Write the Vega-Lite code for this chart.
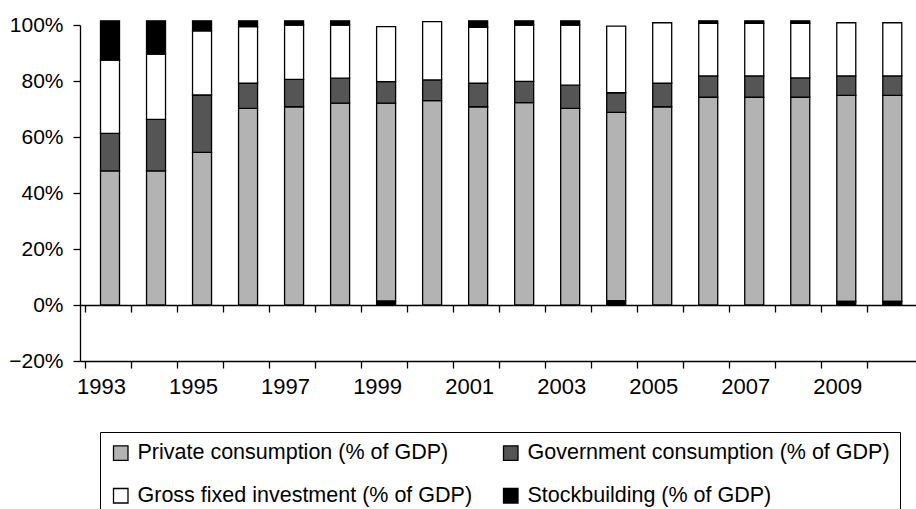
{
  "$schema": "https://vega.github.io/schema/vega-lite/v6.json",
  "width": 836,
  "height": 336,
  "autosize": {"type": "none"},
  "padding": {"left": 80, "top": 25, "right": 0, "bottom": 148},
  "background": "white",
  "config": {
    "view": {"stroke": null},
    "axis": {
      "domainColor": "black",
      "domainWidth": 1.3,
      "tickColor": "black",
      "tickWidth": 1.3,
      "labelColor": "black",
      "labelFont": "Liberation Sans",
      "labelFontSize": 21,
      "grid": false,
      "title": null
    }
  },
  "data": {
    "values": [
      {"year": 1993, "series": "Private consumption (% of GDP)", "share": 47.9},
      {"year": 1993, "series": "Government consumption (% of GDP)", "share": 13.4},
      {"year": 1993, "series": "Gross fixed investment (% of GDP)", "share": 26.2},
      {"year": 1993, "series": "Stockbuilding (% of GDP)", "share": 14.0},
      {"year": 1994, "series": "Private consumption (% of GDP)", "share": 47.9},
      {"year": 1994, "series": "Government consumption (% of GDP)", "share": 18.4},
      {"year": 1994, "series": "Gross fixed investment (% of GDP)", "share": 23.3},
      {"year": 1994, "series": "Stockbuilding (% of GDP)", "share": 11.9},
      {"year": 1995, "series": "Private consumption (% of GDP)", "share": 54.5},
      {"year": 1995, "series": "Government consumption (% of GDP)", "share": 20.5},
      {"year": 1995, "series": "Gross fixed investment (% of GDP)", "share": 22.9},
      {"year": 1995, "series": "Stockbuilding (% of GDP)", "share": 3.6},
      {"year": 1996, "series": "Private consumption (% of GDP)", "share": 70.2},
      {"year": 1996, "series": "Government consumption (% of GDP)", "share": 9.0},
      {"year": 1996, "series": "Gross fixed investment (% of GDP)", "share": 20.2},
      {"year": 1996, "series": "Stockbuilding (% of GDP)", "share": 2.1},
      {"year": 1997, "series": "Private consumption (% of GDP)", "share": 70.8},
      {"year": 1997, "series": "Government consumption (% of GDP)", "share": 9.8},
      {"year": 1997, "series": "Gross fixed investment (% of GDP)", "share": 19.4},
      {"year": 1997, "series": "Stockbuilding (% of GDP)", "share": 1.5},
      {"year": 1998, "series": "Private consumption (% of GDP)", "share": 72.1},
      {"year": 1998, "series": "Government consumption (% of GDP)", "share": 8.9},
      {"year": 1998, "series": "Gross fixed investment (% of GDP)", "share": 19.0},
      {"year": 1998, "series": "Stockbuilding (% of GDP)", "share": 1.5},
      {"year": 1999, "series": "Private consumption (% of GDP)", "share": 70.7},
      {"year": 1999, "series": "Government consumption (% of GDP)", "share": 7.7},
      {"year": 1999, "series": "Gross fixed investment (% of GDP)", "share": 19.6},
      {"year": 1999, "series": "Stockbuilding (% of GDP)", "share": -1.4},
      {"year": 2000, "series": "Private consumption (% of GDP)", "share": 73.0},
      {"year": 2000, "series": "Government consumption (% of GDP)", "share": 7.4},
      {"year": 2000, "series": "Gross fixed investment (% of GDP)", "share": 20.8},
      {"year": 2001, "series": "Private consumption (% of GDP)", "share": 70.8},
      {"year": 2001, "series": "Government consumption (% of GDP)", "share": 8.4},
      {"year": 2001, "series": "Gross fixed investment (% of GDP)", "share": 20.0},
      {"year": 2001, "series": "Stockbuilding (% of GDP)", "share": 2.3},
      {"year": 2002, "series": "Private consumption (% of GDP)", "share": 72.3},
      {"year": 2002, "series": "Government consumption (% of GDP)", "share": 7.6},
      {"year": 2002, "series": "Gross fixed investment (% of GDP)", "share": 20.1},
      {"year": 2002, "series": "Stockbuilding (% of GDP)", "share": 1.5},
      {"year": 2003, "series": "Private consumption (% of GDP)", "share": 70.2},
      {"year": 2003, "series": "Government consumption (% of GDP)", "share": 8.3},
      {"year": 2003, "series": "Gross fixed investment (% of GDP)", "share": 21.5},
      {"year": 2003, "series": "Stockbuilding (% of GDP)", "share": 1.5},
      {"year": 2004, "series": "Private consumption (% of GDP)", "share": 67.3},
      {"year": 2004, "series": "Government consumption (% of GDP)", "share": 7.0},
      {"year": 2004, "series": "Gross fixed investment (% of GDP)", "share": 23.8},
      {"year": 2004, "series": "Stockbuilding (% of GDP)", "share": -1.5},
      {"year": 2005, "series": "Private consumption (% of GDP)", "share": 70.8},
      {"year": 2005, "series": "Government consumption (% of GDP)", "share": 8.4},
      {"year": 2005, "series": "Gross fixed investment (% of GDP)", "share": 21.6},
      {"year": 2006, "series": "Private consumption (% of GDP)", "share": 74.2},
      {"year": 2006, "series": "Government consumption (% of GDP)", "share": 7.6},
      {"year": 2006, "series": "Gross fixed investment (% of GDP)", "share": 18.8},
      {"year": 2006, "series": "Stockbuilding (% of GDP)", "share": 0.9},
      {"year": 2007, "series": "Private consumption (% of GDP)", "share": 74.2},
      {"year": 2007, "series": "Government consumption (% of GDP)", "share": 7.6},
      {"year": 2007, "series": "Gross fixed investment (% of GDP)", "share": 18.8},
      {"year": 2007, "series": "Stockbuilding (% of GDP)", "share": 0.9},
      {"year": 2008, "series": "Private consumption (% of GDP)", "share": 74.2},
      {"year": 2008, "series": "Government consumption (% of GDP)", "share": 6.9},
      {"year": 2008, "series": "Gross fixed investment (% of GDP)", "share": 19.5},
      {"year": 2008, "series": "Stockbuilding (% of GDP)", "share": 0.9},
      {"year": 2009, "series": "Private consumption (% of GDP)", "share": 73.6},
      {"year": 2009, "series": "Government consumption (% of GDP)", "share": 6.9},
      {"year": 2009, "series": "Gross fixed investment (% of GDP)", "share": 19.0},
      {"year": 2009, "series": "Stockbuilding (% of GDP)", "share": -1.3},
      {"year": 2010, "series": "Private consumption (% of GDP)", "share": 73.6},
      {"year": 2010, "series": "Government consumption (% of GDP)", "share": 6.9},
      {"year": 2010, "series": "Gross fixed investment (% of GDP)", "share": 19.0},
      {"year": 2010, "series": "Stockbuilding (% of GDP)", "share": -1.3}
    ]
  },
  "transform": [
    {"calculate": "abs(datum.share)", "as": "segment"},
    {
      "calculate": "datum.share < 0 ? -1 : indexof(['Private consumption (% of GDP)', 'Government consumption (% of GDP)', 'Gross fixed investment (% of GDP)', 'Stockbuilding (% of GDP)'], datum.series)",
      "as": "stackRank"
    }
  ],
  "layer": [
    {
      "mark": {"type": "bar", "width": 19, "xOffset": 2, "stroke": "black", "strokeWidth": 1.3},
      "encoding": {
        "x": {
          "field": "year",
          "type": "quantitative",
          "scale": {"domain": [1992.5, 2010.45], "nice": false, "zero": false},
          "axis": {
            "orient": "bottom",
            "values": [1992.5, 1993.5, 1994.5, 1995.5, 1996.5, 1997.5, 1998.5, 1999.5, 2000.5, 2001.5, 2002.5, 2003.5, 2004.5, 2005.5, 2006.5, 2007.5, 2008.5, 2009.5],
            "labelExpr": "(datum.value + 0.5) % 2 == 1 ? format(datum.value + 0.5, 'd') : ''",
            "labelFontSize": 22,
            "labelOffset": 16,
            "labelOverlap": false,
            "labelFlush": false,
            "labelBound": false,
            "tickSize": 7,
            "labelPadding": 8
          }
        },
        "y": {
          "field": "segment",
          "type": "quantitative",
          "stack": "zero",
          "scale": {"domain": [-20, 100], "nice": false, "zero": false},
          "axis": {
            "values": [-20, 0, 20, 40, 60, 80, 100],
            "labelExpr": "format(datum.value, 'd') + '%'",
            "tickSize": 7,
            "labelPadding": 10
          }
        },
        "order": {"field": "stackRank", "type": "quantitative"},
        "color": {
          "field": "series",
          "type": "nominal",
          "scale": {
            "domain": ["Private consumption (% of GDP)", "Government consumption (% of GDP)", "Gross fixed investment (% of GDP)", "Stockbuilding (% of GDP)"],
            "range": ["#b3b3b3", "#555555", "#ffffff", "#000000"]
          },
          "legend": {
            "orient": "none",
            "direction": "horizontal",
            "legendX": 20,
            "legendY": 407,
            "columns": 2,
            "title": null,
            "strokeColor": "black",
            "fillColor": "white",
            "padding": 10,
            "symbolType": "square",
            "symbolSize": 210,
            "symbolStrokeColor": "black",
            "symbolStrokeWidth": 1.3,
            "labelFont": "Liberation Sans",
            "labelFontSize": 21.5,
            "labelColor": "black",
            "labelOffset": 6,
            "labelLimit": 0,
            "columnPadding": 27,
            "rowPadding": 20
          }
        }
      }
    },
    {
      "mark": {"type": "rule", "opacity": 0},
      "encoding": {
        "x": {
          "field": "year",
          "type": "quantitative",
          "axis": {
            "orient": "bottom",
            "offset": -56,
            "values": [1992.5, 1993.5, 1994.5, 1995.5, 1996.5, 1997.5, 1998.5, 1999.5, 2000.5, 2001.5, 2002.5, 2003.5, 2004.5, 2005.5, 2006.5, 2007.5, 2008.5, 2009.5],
            "labels": false,
            "tickSize": 7
          }
        }
      }
    }
  ],
  "resolve": {"axis": {"x": "independent"}}
}
